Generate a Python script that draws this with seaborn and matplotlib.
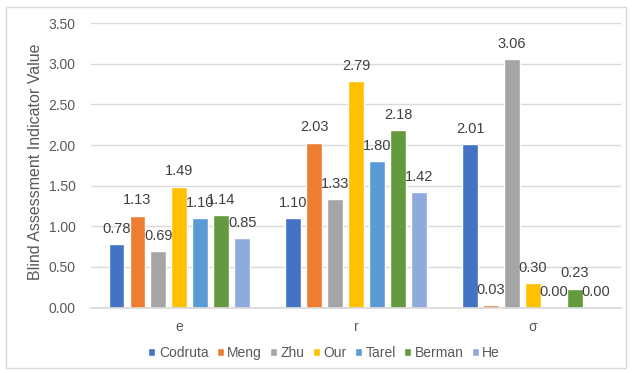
import matplotlib
matplotlib.use("Agg")
import matplotlib.pyplot as plt
import seaborn as sns
import pandas as pd
from matplotlib.patches import Rectangle

categories = ["e", "r", "σ"]
methods = ["Codruta", "Meng", "Zhu", "Our", "Tarel", "Berman", "He"]
codruta = [0.78, 1.10, 2.01]
meng = [1.13, 2.03, 0.03]
zhu = [0.69, 1.33, 3.06]
our = [1.49, 2.79, 0.30]
tarel = [1.10, 1.80, 0.00]
berman = [1.14, 2.18, 0.23]
he = [0.85, 1.42, 0.00]
colors = ["#4472C4", "#ED7D31", "#A5A5A5", "#FFC000", "#5B9BD5", "#639A3E", "#8FAADC"]

series = [codruta, meng, zhu, our, tarel, berman, he]
rows = []
for m, vals in zip(methods, series):
    for c, v in zip(categories, vals):
        rows.append({"cat": c, "method": m, "value": v})
df = pd.DataFrame(rows)

sns.set_theme(style="white")
plt.rcParams["font.family"] = ["Liberation Sans", "DejaVu Sans"]

fig = plt.figure(figsize=(6.32, 3.73), dpi=100)
ax = fig.add_axes([0.144, 0.1756, 0.839, 0.762])

sns.barplot(data=df, x="cat", y="value", hue="method", hue_order=methods,
            order=categories, palette=colors, width=0.83, gap=0.24,
            ax=ax, errorbar=None, saturation=1, legend=True)

ax.set_ylim(0, 3.5)
ax.set_yticks([0, 0.5, 1.0, 1.5, 2.0, 2.5, 3.0, 3.5])
ax.set_yticklabels([f"{v:.2f}" for v in [0, 0.5, 1.0, 1.5, 2.0, 2.5, 3.0, 3.5]])
ax.yaxis.grid(True, color="#D9D9D9", linewidth=1)
ax.set_axisbelow(True)
for s in ["top", "right", "left"]:
    ax.spines[s].set_visible(False)
ax.spines["bottom"].set_color("#D9D9D9")
ax.tick_params(axis="y", length=0, pad=11, labelsize=10, labelcolor="#595959")
ax.tick_params(axis="x", length=0, pad=9, labelsize=10, labelcolor="#595959")
ax.set_xlabel("")
ax.set_ylabel("")

for cont in ax.containers:
    labels = [f"{b.get_height():.2f}" for b in cont]
    ax.bar_label(cont, labels=labels, padding=6, fontsize=10.5, color="#404040")

fig.text(36 / 632, 1 - 161.5 / 373, "Blind Assessment Indicator Value", rotation=90,
         ha="center", va="center", fontsize=11.5, color="#595959")

leg = ax.legend(loc="center", bbox_to_anchor=(0.513, 0.054),
                bbox_transform=fig.transFigure, ncol=7, frameon=False,
                handlelength=0.5, handleheight=0.5, handletextpad=0.25,
                columnspacing=0.6, fontsize=10)
for t in leg.get_texts():
    t.set_color("#595959")

fig.patches.append(Rectangle((6 / 632, 5 / 373), 620 / 632, 361 / 373,
                             transform=fig.transFigure, fill=False,
                             edgecolor="#D9D9D9", linewidth=1))

fig.savefig("out.png", dpi=100)
